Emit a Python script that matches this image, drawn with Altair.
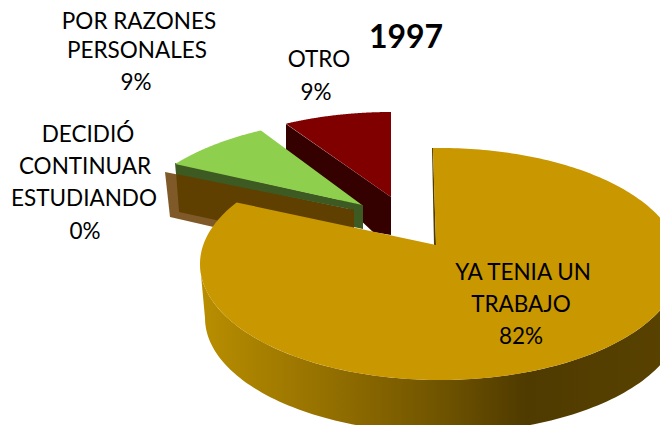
import math
import altair as alt
import pandas as pd

# shares
categories = ["YA TENIA UN TRABAJO", "DECIDIÓ CONTINUAR ESTUDIANDO", "POR RAZONES PERSONALES", "OTRO"]
shares = [82, 0, 9, 9]
title_text = "1997"

label_lines = ["POR RAZONES", "PERSONALES", "9%", "OTRO", "9%", "DECIDIÓ", "CONTINUAR", "ESTUDIANDO", "0%",
               "YA TENIA UN", "TRABAJO", "82%"]
label_x = [139, 137, 136, 319, 316, 88, 85, 84, 85, 523, 521, 521]
label_y = [22, 51, 83, 60, 93, 135, 167, 199, 232, 273, 305, 337]

RX, RY = 240, 116
X = alt.X("x:Q", scale=alt.Scale(domain=[8, 660], nice=False, zero=False), axis=None)
Y = alt.Y("y:Q", scale=alt.Scale(domain=[425, 8], nice=False, zero=False), axis=None)


def arc(cx, cy, t0, sweep, n=120, rx=RX, ry=RY):
    return [(cx + rx * math.cos(math.radians(t0 + sweep * i / n)),
             cy + ry * math.sin(math.radians(t0 + sweep * i / n))) for i in range(n + 1)]


def poly(points, fill, stroke=None, sw=0.5):
    pts = list(points) + [points[0]]
    df = pd.DataFrame({"x": [p[0] for p in pts], "y": [p[1] for p in pts], "i": range(len(pts))})
    return alt.Chart(df).mark_line(fill=fill, stroke=stroke or "transparent", strokeWidth=sw, clip=True,
                                   interpolate="linear").encode(x=X, y=Y, order="i:Q")


# red slice
red_sweep = -shares[3] * 3.6 * 0.8
red_arc = arc(391, 228, -90, red_sweep)
red_wall = poly([(286, 124), (286, 150), (373, 232), (391, 235), (391, 197)], "#340000")
red_top = poly(red_arc + [(391, 197)], "#800000")

# zero-share slice, only its cut faces show
brown_out = poly([(165, 172), (170, 217), (300, 247), (354, 240), (354, 210)], "#7f5a28")
brown_in = poly([(176, 172), (179, 212), (354, 250), (354, 210)], "#5f4000")

# green slice
green_sweep = -shares[2] * 3.6 * 0.82
green_arc = arc(365, 235, -115.7, green_sweep)
green_wall = poly([(175, 163), (176, 174), (354, 210), (354, 227), (363, 229), (363, 205)], "#3d5a22")
green_top = poly(green_arc + [(362, 205)], "#8fcf4e")

# main slice
main_sweep = shares[0] * 3.6 * 1.029
main_top = poly(arc(440, 264, -91.7, main_sweep, n=300) + [(436, 245)], "#c99700")
wall_grad = alt.Gradient(
    gradient="linear", x1=0, x2=1, y1=0, y2=0,
    stops=[alt.GradientStop(color="#b98e00", offset=0),
           alt.GradientStop(color="#8f6c00", offset=0.3),
           alt.GradientStop(color="#6c5100", offset=0.52),
           alt.GradientStop(color="#4f3a00", offset=0.68),
           alt.GradientStop(color="#5a4300", offset=1)])
main_wall = poly(arc(440, 264, 0, 180) + arc(443, 318, 180, -180, rx=238, ry=115), wall_grad)
inner_edge = poly([(433, 148), (436, 245), (434, 245), (432, 148)], "#4f3a00")

labels_df = pd.DataFrame({"x": label_x, "y": label_y, "t": label_lines})
labels = alt.Chart(labels_df).mark_text(font="Lato", fontSize=22.5, color="black", align="center",
                                        baseline="middle").encode(x=X, y=Y, text="t:N")
title_df = pd.DataFrame({"x": [406], "y": [38], "t": [title_text]})
title = alt.Chart(title_df).mark_text(font="Lato", fontSize=32, fontWeight="bold", color="black",
                                      align="center", baseline="middle").encode(x=X, y=Y, text="t:N")

chart = alt.layer(red_wall, red_top, brown_out, brown_in, green_wall, green_top,
                  main_wall, inner_edge, main_top, labels, title).properties(
    width=652, height=417, padding=0, background="white",
    autosize=alt.AutoSizeParams(type="none")
).configure_view(stroke=None)

chart.save("out.html", embed_options={"renderer": "svg", "actions": False})
